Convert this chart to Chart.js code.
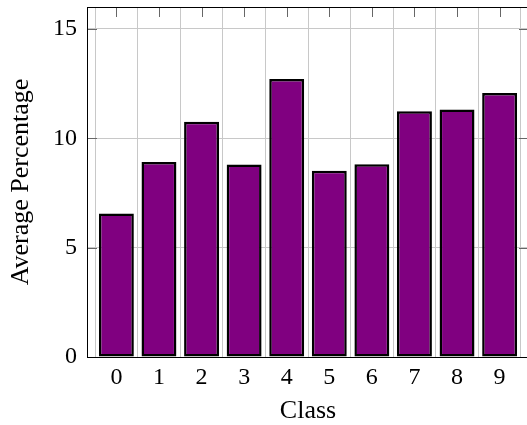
<!DOCTYPE html>
<html>
<head>
<meta charset="utf-8">
<script src="https://cdn.jsdelivr.net/npm/chart.js@4.4.1/dist/chart.umd.min.js"></script>
<style>
  html, body { margin: 0; padding: 0; background: #fff; overflow: hidden; }
  #wrap { width: 532px; height: 425px; }
</style>
</head>
<body>
<div id="wrap"><canvas id="c" width="532" height="425"></canvas></div>
<script>
const categories = [0, 1, 2, 3, 4, 5, 6, 7, 8, 9];
const averagePercentage = [6.56, 8.92, 10.76, 8.80, 12.71, 8.52, 8.81, 11.23, 11.31, 12.07];
const yTickValues = [0, 5, 10, 15];
const xTitle = 'Class';
const yTitle = 'Average Percentage';

const FONT = '"Liberation Serif", "Times New Roman", serif';

const frame = {
  id: 'frame',
  afterDraw(chart) {
    const { ctx, chartArea: a, scales } = chart;
    ctx.save();
    ctx.strokeStyle = '#666';
    ctx.lineWidth = 1;
    const L = 10;
    ctx.beginPath();
    categories.forEach(v => {
      const x = Math.round(scales.x.getPixelForValue(v)) + 0.5;
      ctx.moveTo(x, a.top); ctx.lineTo(x, a.top + L);
    });
    yTickValues.forEach(v => {
      if (v === 0) return;
      const y = Math.round(scales.y.getPixelForValue(v)) + 0.5;
      ctx.moveTo(a.left, y); ctx.lineTo(a.left + L, y);
      ctx.moveTo(a.right - L, y); ctx.lineTo(a.right, y);
    });
    ctx.stroke();
    ctx.strokeStyle = '#000';
    ctx.lineWidth = 1;
    ctx.strokeRect(Math.round(a.left) + 0.5, Math.round(a.top) + 0.5,
      Math.round(a.right - a.left), Math.round(a.bottom - a.top));
    ctx.restore();
  }
};

new Chart(document.getElementById('c'), {
  type: 'bar',
  data: {
    labels: categories,
    datasets: [{
      data: averagePercentage,
      backgroundColor: '#800080',
      borderColor: '#000',
      borderWidth: 2.5,
      borderSkipped: false,
      categoryPercentage: 1,
      barPercentage: 0.82
    }]
  },
  options: {
    responsive: false,
    animation: false,
    devicePixelRatio: 1,
    layout: { padding: { top: 7, left: 0, right: 3, bottom: 0 } },
    plugins: { legend: { display: false }, tooltip: { enabled: false } },
    scales: {
      x: {
        type: 'linear',
        min: -0.69,
        max: 9.69,
        offset: false,
        afterBuildTicks: s => { s.ticks = categories.map(v => ({ value: v })); },
        afterFit: s => { s.height = 68; s.paddingLeft = 0; s.paddingRight = 0; },
        grid: { color: '#c8c8c8', lineWidth: 1, drawTicks: false },
        border: { display: false },
        ticks: {
          color: '#000', font: { family: FONT, size: 24 }, padding: 6,
          autoSkip: false, maxRotation: 0,
          callback: v => String(v)
        },
        title: {
          display: true, text: xTitle, color: '#000',
          font: { family: FONT, size: 26, lineHeight: 1.1 },
          padding: { top: 0, bottom: 0 }
        }
      },
      y: {
        min: 0,
        max: 16,
        afterBuildTicks: s => { s.ticks = yTickValues.map(v => ({ value: v })); },
        afterFit: s => { s.width = 87; s.paddingTop = 0; s.paddingBottom = 0; },
        grid: { color: '#c8c8c8', lineWidth: 1, drawTicks: false },
        border: { display: false },
        ticks: {
          color: '#000', font: { family: FONT, size: 24 }, padding: 10,
          callback: v => String(v)
        },
        title: {
          display: true, text: yTitle, color: '#000',
          font: { family: FONT, size: 26, lineHeight: 1.2 },
          padding: { top: 6, bottom: 0 }
        }
      }
    }
  },
  plugins: [frame]
});
</script>
</body>
</html>
